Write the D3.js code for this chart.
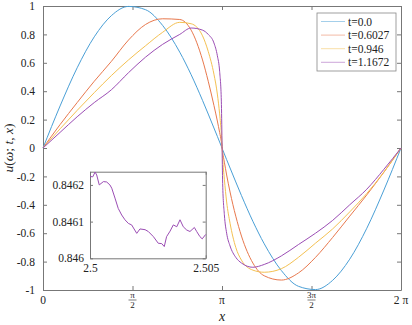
<!DOCTYPE html>
<html>
<head>
<meta charset="utf-8">
<script src="https://cdn.jsdelivr.net/npm/d3@7"></script>
<style>
  body { margin: 0; background: #fff; }
  svg text { font-family: "Liberation Serif", "DejaVu Serif", serif; }
  .tick line { stroke: #777; }
  .domain { stroke: #777; }
</style>
</head>
<body>
<svg id="chart" width="412" height="325"></svg>
<script>
// x positions (radians) the curves were read at
var xs = [0, 0.3, 0.6, 0.9, 1.2, 1.5, 1.8, 2.1, 2.4, 2.6, 2.8, 2.9, 3.0, 3.06, 3.10, 3.13, 3.1416,
  3.1532, 3.1832, 3.2232, 3.2832, 3.3832, 3.4832, 3.6832, 3.8832, 4.1832, 4.4832, 4.7832, 5.0832,
  5.3832, 5.6832, 5.9832, 6.2832];

var u0 = [0, 0.296, 0.565, 0.783, 0.932, 0.997, 0.974, 0.863, 0.675, 0.516, 0.335, 0.239, 0.141, 0.082, 0.042, 0.012, 0,
  -0.012, -0.042, -0.082, -0.141, -0.239, -0.335, -0.516, -0.675, -0.863, -0.974, -0.997, -0.932,
  -0.783, -0.565, -0.296, 0];
var u1 = [0, 0.165, 0.32, 0.47, 0.61, 0.76, 0.87, 0.91, 0.905, 0.83, 0.62, 0.47, 0.30, 0.19, 0.11, 0.045, 0.01,
  -0.03, -0.10, -0.19, -0.31, -0.48, -0.62, -0.81, -0.90, -0.93, -0.88, -0.77, -0.63,
  -0.48, -0.33, -0.17, 0];
var u2 = [0, 0.135, 0.265, 0.39, 0.51, 0.62, 0.72, 0.815, 0.885, 0.875, 0.79, 0.68, 0.52, 0.38, 0.24, 0.10, 0.02,
  -0.07, -0.22, -0.38, -0.53, -0.70, -0.79, -0.86, -0.875, -0.85, -0.77, -0.67, -0.57,
  -0.45, -0.32, -0.17, 0];
var u3 = [0, 0.11, 0.22, 0.32, 0.41, 0.53, 0.64, 0.73, 0.80, 0.845, 0.83, 0.80, 0.74, 0.65, 0.54, 0.33, 0.05,
  -0.25, -0.47, -0.60, -0.69, -0.77, -0.81, -0.84, -0.82, -0.76, -0.68, -0.60, -0.51,
  -0.40, -0.29, -0.15, 0];

var series = [u0, u1, u2, u3];
var seriesNames = ["t=0.0", "t=0.6027", "t=0.946", "t=1.1672"];
var colors = ["#4a9fd6", "#e8784d", "#f4c152", "#9b4db4"];

// zoomed part of the last curve
var insetX = [2.5, 2.50012, 2.50022, 2.50029, 2.5004, 2.50058, 2.50072, 2.50086, 2.50094, 2.50108,
  2.50122, 2.50137, 2.50151, 2.50166, 2.5018, 2.50202, 2.50216, 2.50238, 2.50252, 2.50274,
  2.50295, 2.5031, 2.50321, 2.50331, 2.50346, 2.5036, 2.50375, 2.50389, 2.50403, 2.50418,
  2.50432, 2.50451, 2.50461, 2.50475, 2.50485, 2.505];
var insetU = [0.846223, 0.846222, 0.846235, 0.846227, 0.8462, 0.846209, 0.846208, 0.8462, 0.846191, 0.846164,
  0.846136, 0.846118, 0.846105, 0.846095, 0.846091, 0.846068, 0.84608, 0.846078, 0.846073, 0.846059,
  0.846041, 0.84604, 0.846032, 0.846059, 0.846074, 0.846091, 0.846086, 0.846105, 0.846086, 0.846077,
  0.846073, 0.846084, 0.846073, 0.846059, 0.846053, 0.846065];

var yTicks = [-1, -0.8, -0.6, -0.4, -0.2, 0, 0.2, 0.4, 0.6, 0.8, 1];
var xTicks = [0, Math.PI / 2, Math.PI, 3 * Math.PI / 2, 2 * Math.PI];
var xTickNum = ["0", "π", "π", "3π", "2 π"];
var xTickDen = ["", "2", "", "2", ""];
var insetYTicks = [0.846, 0.8461, 0.8462];
var insetXTicks = [2.5, 2.505];

var FONT = "Liberation Serif";
var svg = d3.select("#chart");
var L = 43, R = 401, T = 6, B = 290;

var x = d3.scaleLinear().domain([0, 2 * Math.PI]).range([L, R]);
var y = d3.scaleLinear().domain([-1, 1]).range([B, T]);

svg.append("rect").attr("x", L).attr("y", T).attr("width", R - L).attr("height", B - T)
  .attr("fill", "#fff");

var fmtY = function(d) { return d === 0 ? "0" : String(+d.toFixed(1)); };

function styleTicks(sel, size) {
  sel.attr("font-family", FONT);
  sel.selectAll("text").attr("font-size", size).attr("fill", "#222").attr("font-family", FONT);
}

svg.append("g").attr("transform", "translate(0," + B + ")")
  .call(d3.axisBottom(x).tickValues(xTicks).tickSizeInner(-4).tickSizeOuter(0).tickFormat(""));
svg.append("g").attr("transform", "translate(0," + T + ")")
  .call(d3.axisTop(x).tickValues(xTicks).tickSizeInner(-4).tickSizeOuter(0).tickFormat(""));
svg.append("g").attr("transform", "translate(" + L + ",0)")
  .call(d3.axisLeft(y).tickValues(yTicks).tickSizeInner(-4).tickSizeOuter(0).tickFormat(fmtY).tickPadding(8))
  .call(styleTicks, 11.5);
svg.append("g").attr("transform", "translate(" + R + ",0)")
  .call(d3.axisRight(y).tickValues(yTicks).tickSizeInner(-4).tickSizeOuter(0).tickFormat(""));

// x tick labels, fractions stacked
xTicks.forEach(function(v, i) {
  var g = svg.append("g").attr("fill", "#222").attr("font-family", FONT);
  if (xTickDen[i]) {
    g.append("text").attr("x", x(v)).attr("y", 298).attr("text-anchor", "middle")
      .attr("font-size", 9).text(xTickNum[i]);
    g.append("line").attr("x1", x(v) - 4).attr("x2", x(v) + 4).attr("y1", 300).attr("y2", 300)
      .attr("stroke", "#222").attr("stroke-width", 0.6);
    g.append("text").attr("x", x(v)).attr("y", 307.5).attr("text-anchor", "middle")
      .attr("font-size", 9).text(xTickDen[i]);
  } else {
    g.append("text").attr("x", x(v)).attr("y", 304).attr("text-anchor", "middle")
      .attr("font-size", 11.5).text(xTickNum[i]);
  }
});

var line = d3.line().x(function(d) { return x(d[0]); }).y(function(d) { return y(d[1]); })
  .curve(d3.curveMonotoneX);

series.forEach(function(s, i) {
  svg.append("path").datum(xs.map(function(v, j) { return [v, s[j]]; }))
    .attr("fill", "none").attr("stroke", colors[i]).attr("stroke-width", 1).attr("d", line);
});

// axis labels
svg.append("text").attr("x", (L + R) / 2).attr("y", 321).attr("text-anchor", "middle")
  .attr("font-family", FONT).attr("font-style", "italic").attr("font-size", 14).attr("fill", "#222").text("x");
svg.append("text").attr("transform", "translate(13," + ((T + B) / 2) + ") rotate(-90)")
  .attr("text-anchor", "middle").attr("font-family", FONT).attr("font-size", 13.5).attr("fill", "#222")
  .html('<tspan font-style="italic">u</tspan>(<tspan font-style="italic">ω</tspan>; <tspan font-style="italic">t</tspan>, <tspan font-style="italic">x</tspan>)');

// legend
var leg = svg.append("g").attr("font-family", FONT);
leg.append("rect").attr("x", 317).attr("y", 13).attr("width", 79).attr("height", 58)
  .attr("fill", "#fff").attr("stroke", "#888").attr("stroke-width", 0.8);
seriesNames.forEach(function(n, i) {
  var ly = 21.5 + i * 13.6;
  leg.append("line").attr("x1", 321).attr("x2", 345).attr("y1", ly).attr("y2", ly)
    .attr("stroke", colors[i]).attr("stroke-opacity", 0.5).attr("stroke-width", 1);
  leg.append("text").attr("x", 348).attr("y", ly + 4).attr("font-size", 11.5).attr("fill", "#222").text(n);
});

// inset
var iL = 90, iR = 205.7, iT = 171.7, iB = 258.3;
var ix = d3.scaleLinear().domain([2.5, 2.505]).range([iL, iR]);
var iy = d3.scaleLinear().domain([0.846, 0.846236]).range([iB, iT]);
svg.append("rect").attr("x", iL).attr("y", iT).attr("width", iR - iL).attr("height", iB - iT)
  .attr("fill", "#fff");
svg.append("g").attr("transform", "translate(0," + iB + ")")
  .call(d3.axisBottom(ix).tickValues(insetXTicks).tickSizeInner(-3).tickSizeOuter(0).tickPadding(6)
    .tickFormat(function(d) { return d === 2.5 ? "2.5" : "2.505"; }))
  .call(styleTicks, 11.5);
svg.append("g").attr("transform", "translate(0," + iT + ")")
  .call(d3.axisTop(ix).tickValues(insetXTicks).tickSizeInner(-3).tickSizeOuter(0).tickFormat(""));
svg.append("g").attr("transform", "translate(" + iL + ",0)")
  .call(d3.axisLeft(iy).tickValues(insetYTicks).tickSizeInner(-3).tickSizeOuter(0).tickPadding(6)
    .tickFormat(function(d) { return d3.format(".4f")(d).replace(/0$/, "").replace(/0$/, ""); }))
  .call(styleTicks, 11.5);
svg.append("g").attr("transform", "translate(" + iR + ",0)")
  .call(d3.axisRight(iy).tickValues(insetYTicks).tickSizeInner(-3).tickSizeOuter(0).tickFormat(""));
var iline = d3.line().x(function(d) { return ix(d[0]); }).y(function(d) { return iy(d[1]); });
svg.append("path").datum(insetX.map(function(v, j) { return [v, insetU[j]]; }))
  .attr("fill", "none").attr("stroke", colors[3]).attr("stroke-width", 1).attr("d", iline);
</script>
</body>
</html>
